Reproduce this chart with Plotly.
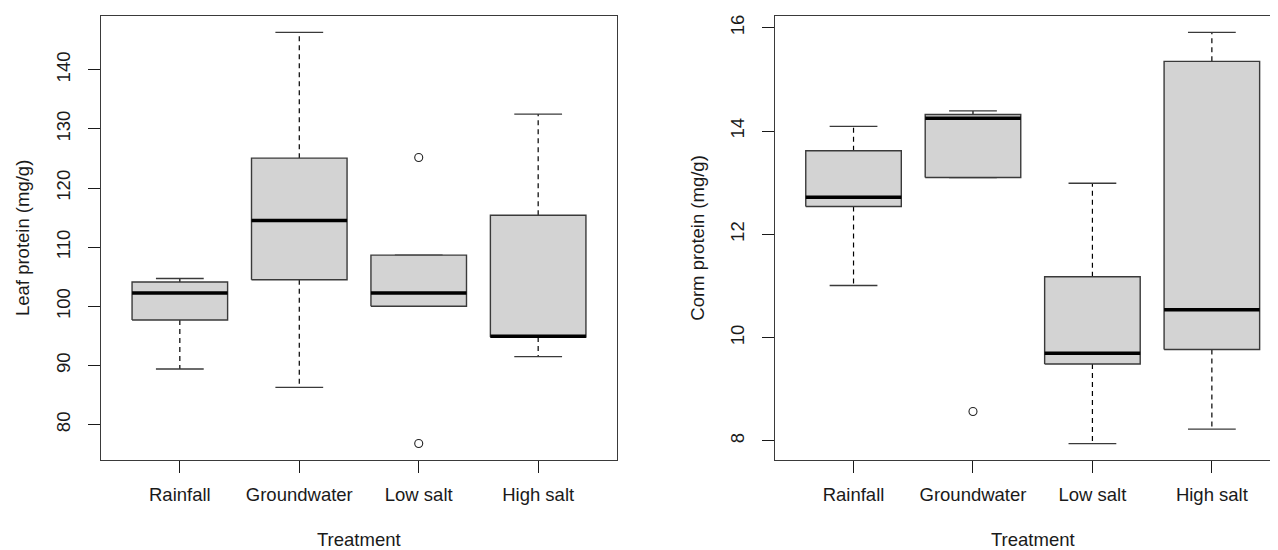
import plotly.graph_objects as go

categories = ["Rainfall", "Groundwater", "Low salt", "High salt"]

# Leaf protein (mg/g): five-number summaries + outliers
leaf_lower = [89.4, 86.3, 100.0, 91.5]
leaf_q1 = [97.7, 104.5, 100.0, 94.8]
leaf_median = [102.25, 114.5, 102.25, 94.95]
leaf_q3 = [104.1, 125.05, 108.65, 115.4]
leaf_upper = [104.7, 146.3, 108.65, 132.5]
leaf_outliers = [[], [], [125.15, 76.8], []]

# Corm protein (mg/g)
corm_lower = [11.01, 13.10, 7.95, 8.23]
corm_q1 = [12.54, 13.10, 9.49, 9.77]
corm_median = [12.72, 14.25, 9.70, 10.54]
corm_q3 = [13.62, 14.32, 11.18, 15.35]
corm_upper = [14.09, 14.39, 12.99, 15.91]
corm_outliers = [[], [8.57], [], []]

leaf_ticks = [80, 90, 100, 110, 120, 130, 140]
corm_ticks = [8, 10, 12, 14, 16]

FONT = "Liberation Sans, Arial, sans-serif"
TXT = "#1a1a1a"
LINE = "#3a3a3a"
OFF = 8          # page body margin offset
W = 1278 - OFF
H = 550 - OFF

fig = go.Figure()


def add_panel(lower, q1, med, q3, upper, outs, xa, ya):
    hw, cw = 0.4, 0.2
    bx, by, mx, my, wx, wy, cx, cy, ox, oy = [], [], [], [], [], [], [], [], [], []
    for i in range(len(categories)):
        c = i + 1
        bx += [c - hw, c + hw, c + hw, c - hw, c - hw, None]
        by += [q1[i], q1[i], q3[i], q3[i], q1[i], None]
        mx += [c - hw, c + hw, None]
        my += [med[i], med[i], None]
        wx += [c, c, None, c, c, None]
        wy += [q3[i], upper[i], None, q1[i], lower[i], None]
        cx += [c - cw, c + cw, None, c - cw, c + cw, None]
        cy += [upper[i], upper[i], None, lower[i], lower[i], None]
        for o in outs[i]:
            ox.append(c)
            oy.append(o)
    common = dict(xaxis=xa, yaxis=ya, showlegend=False, hoverinfo="skip")
    fig.add_trace(go.Scatter(x=wx, y=wy, mode="lines",
                             line=dict(color="black", width=1.2, dash="5px,4px"), **common))
    fig.add_trace(go.Scatter(x=cx, y=cy, mode="lines",
                             line=dict(color=LINE, width=1.3), **common))
    fig.add_trace(go.Scatter(x=bx, y=by, mode="lines", fill="toself",
                             fillcolor="#D3D3D3", line=dict(color=LINE, width=1.4), **common))
    fig.add_trace(go.Scatter(x=mx, y=my, mode="lines",
                             line=dict(color="black", width=3.5), **common))
    fig.add_trace(go.Scatter(x=ox, y=oy, mode="markers",
                             marker=dict(symbol="circle-open", size=8,
                                         color="#222", line=dict(width=1.1)), **common))


add_panel(leaf_lower, leaf_q1, leaf_median, leaf_q3, leaf_upper, leaf_outliers, "x", "y")
add_panel(corm_lower, corm_q1, corm_median, corm_q3, corm_upper, corm_outliers, "x2", "y2")


def yrange(*arrs):
    vals = []
    for a in arrs:
        for v in a:
            if isinstance(v, list):
                vals += v
            else:
                vals.append(v)
    lo, hi = min(vals), max(vals)
    ext = 0.04 * (hi - lo)
    return [lo - ext, hi + ext]


leaf_range = yrange(leaf_lower, leaf_upper, leaf_outliers)
corm_range = yrange(corm_lower, corm_upper, corm_outliers)

n = len(categories)
x1_dom = [(101 - OFF) / W, (617 - OFF) / W]
x2_start = 774.7 - OFF
x2_dom = [x2_start / W, 1.0]
xr = [0.5 - 0.04 * n, n + 0.5 + 0.04 * n]
ppu = (617 - 101) / (xr[1] - xr[0])
x2_range = [xr[0], xr[0] + (W - x2_start) / ppu]

axis_font = dict(family=FONT, size=18.5, color=TXT)
xcommon = dict(tickmode="array", tickvals=list(range(1, n + 1)), ticktext=categories,
               showgrid=False, zeroline=False, showline=True, linecolor=LINE, linewidth=1.3,
               ticks="outside", ticklen=12, tickwidth=1.3, tickcolor=TXT,
               tickfont=axis_font, ticklabelstandoff=6)
ycommon = dict(showgrid=False, zeroline=False, showline=True, linecolor=LINE, linewidth=1.3,
               ticks="outside", ticklen=12, tickwidth=1.3, tickcolor=TXT,
               tickfont=axis_font, tickangle=-90, ticklabelstandoff=10, domain=[0, 1])

fig.update_layout(
    width=W, height=H,
    margin=dict(l=0, r=0, t=16 - OFF, b=90),
    paper_bgcolor="white", plot_bgcolor="white",
    font=dict(family=FONT, color=TXT),
    xaxis=dict(xcommon, domain=x1_dom, range=xr, anchor="y", mirror=True),
    yaxis=dict(ycommon, range=leaf_range, tickvals=leaf_ticks, anchor="x", mirror=True),
    xaxis2=dict(xcommon, domain=x2_dom, range=x2_range, anchor="y2", mirror=True),
    yaxis2=dict(ycommon, range=corm_range, tickvals=corm_ticks, anchor="x2", mirror=False),
)

ann_font = dict(family=FONT, size=18.5, color=TXT)
fig.add_annotation(text="Treatment", xref="x", yref="paper", x=(n + 1) / 2, y=0,
                   yanchor="middle", yshift=-79, showarrow=False, font=ann_font)
fig.add_annotation(text="Treatment", xref="x2", yref="paper", x=(n + 1) / 2, y=0,
                   yanchor="middle", yshift=-79, showarrow=False, font=ann_font)
fig.add_annotation(text="Leaf protein (mg/g)", xref="x domain", yref="y domain", x=0, y=0.5,
                   xanchor="center", xshift=-79, textangle=-90, showarrow=False, font=ann_font)
fig.add_annotation(text="Corm protein (mg/g)", xref="x2 domain", yref="y2 domain", x=0, y=0.5,
                   xanchor="center", xshift=-78, textangle=-90, showarrow=False, font=ann_font)

fig.write_html("out.html")
